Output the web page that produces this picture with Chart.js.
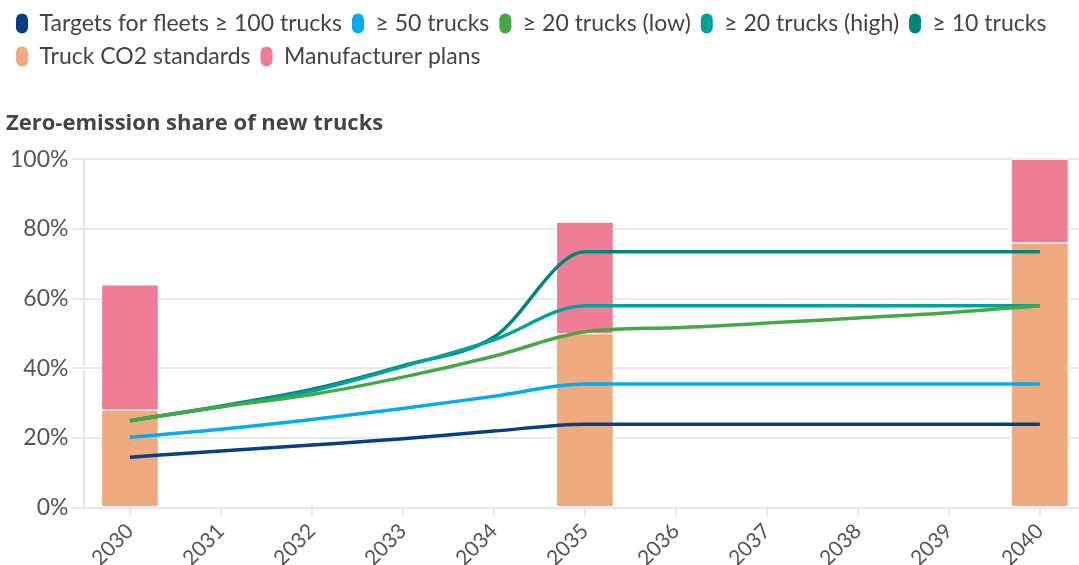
<!DOCTYPE html>
<html>
<head>
<meta charset="utf-8">
<script src="https://cdn.jsdelivr.net/npm/chart.js@4.4.0/dist/chart.umd.min.js"></script>
<style>
  body { margin: 0; background: #fff; }
</style>
</head>
<body>
<canvas id="grafico" width="1079" height="565"></canvas>
<script>
  // anos do eixo x
  var anos = [2030, 2031, 2032, 2033, 2034, 2035, 2036, 2037, 2038, 2039, 2040];
  var frota100 = [14.5, 16.3, 18, 19.8, 22, 24, 24, 24, 24, 24, 24];
  var frota50 = [20.2, 22.5, 25.3, 28.5, 32, 35.5, 35.5, 35.5, 35.5, 35.5, 35.5];
  var frota20baixo = [25, 29, 32.5, 37.5, 43.5, 50.5, 51.7, 53, 54.5, 56, 58];
  var frota20alto = [25, 29, 33.5, 40.5, 48.2, 58, 58, 58, 58, 58, 58];
  var frota10 = [25, 29.2, 34, 40.8, 49, 73.5, 73.5, 73.5, 73.5, 73.5, 73.5];

  // barras
  var anosBarras = [2030, 2035, 2040];
  var padroesCO2 = [28, 50, 76];
  var planosFabricantes = [36, 32, 24];

  var ticksY = [0, 20, 40, 60, 80, 100];

  function pontos(xs, ys) {
    return xs.map(function (x, i) { return { x: x, y: ys[i] }; });
  }

  function linha(label, valores, cor, stack) {
    return {
      type: 'line',
      label: label,
      data: pontos(anos, valores),
      borderColor: cor,
      backgroundColor: cor,
      borderWidth: 3.5,
      pointRadius: 0,
      cubicInterpolationMode: 'monotone',
      fill: false,
      stack: stack
    };
  }

  function barra(label, valores, cor) {
    return {
      type: 'bar',
      label: label,
      data: pontos(anosBarras, valores),
      backgroundColor: cor,
      borderColor: '#ffffff',
      borderWidth: 1,
      borderSkipped: false,
      barThickness: 57,
      stack: 'barras'
    };
  }

  Chart.defaults.font.family = 'Lato, "Noto Sans", sans-serif';
  Chart.defaults.color = '#444';

  var ctx = document.getElementById('grafico').getContext('2d');
  var myChart = new Chart(ctx, {
    data: {
      datasets: [
        linha('Targets for fleets \u2265 100 trucks', frota100, '#073f86', 'l1'),
        linha('\u2265 50 trucks', frota50, '#00adee', 'l2'),
        linha('\u2265 20 trucks (low)', frota20baixo, '#45a846', 'l3'),
        linha('\u2265 20 trucks (high)', frota20alto, '#00a39b', 'l4'),
        linha('\u2265 10 trucks', frota10, '#00877b', 'l5'),
        barra('Truck CO2 standards', padroesCO2, '#efaa80'),
        barra('Manufacturer plans', planosFabricantes, '#ef7d96')
      ]
    },
    options: {
      responsive: false,
      animation: false,
      layout: { padding: { left: 6, top: 2, right: 0, bottom: -9 } },
      plugins: {
        tooltip: { enabled: false },
        legend: {
          position: 'top',
          align: 'start',
          weight: 3000,
          labels: {
            font: { size: 23 },
            color: '#444',
            boxWidth: 12,
            boxHeight: 20,
            useBorderRadius: true,
            borderRadius: 6,
            padding: 10,
            generateLabels: function (chart) {
              var itens = Chart.defaults.plugins.legend.labels.generateLabels(chart);
              itens.forEach(function (it) { it.lineWidth = 0; });
              return itens;
            }
          }
        },
        title: {
          display: true,
          text: 'Zero-emission share of new trucks',
          align: 'start',
          color: '#444',
          font: { family: '"Open Sans", Lato, sans-serif', size: 22, weight: 'bold' },
          padding: { top: 33, bottom: 22 }
        }
      },
      scales: {
        x: {
          type: 'linear',
          offset: false,
          min: 2029.5,
          max: 2040.43,
          grid: { offset: false, drawOnChartArea: false, color: '#e8e8e8', lineWidth: 2, tickLength: 8 },
          border: { color: '#e8e8e8', width: 2 },
          ticks: {
            stepSize: 1,
            includeBounds: false,
            minRotation: 45,
            maxRotation: 45,
            color: '#555',
            font: { size: 21 },
            callback: function (v) { return String(v); }
          }
        },
        y: {
          stacked: true,
          min: 0,
          max: 100,
          afterBuildTicks: function (axis) {
            axis.ticks = ticksY.map(function (v) { return { value: v }; });
          },
          grid: { color: '#e8e8e8', lineWidth: 2, tickLength: 12 },
          border: { color: '#e8e8e8', width: 2 },
          ticks: {
            color: '#555',
            font: { size: 23 },
            padding: 4,
            callback: function (v) { return v + '%'; }
          }
        }
      }
    }
  });
</script>
</body>
</html>
